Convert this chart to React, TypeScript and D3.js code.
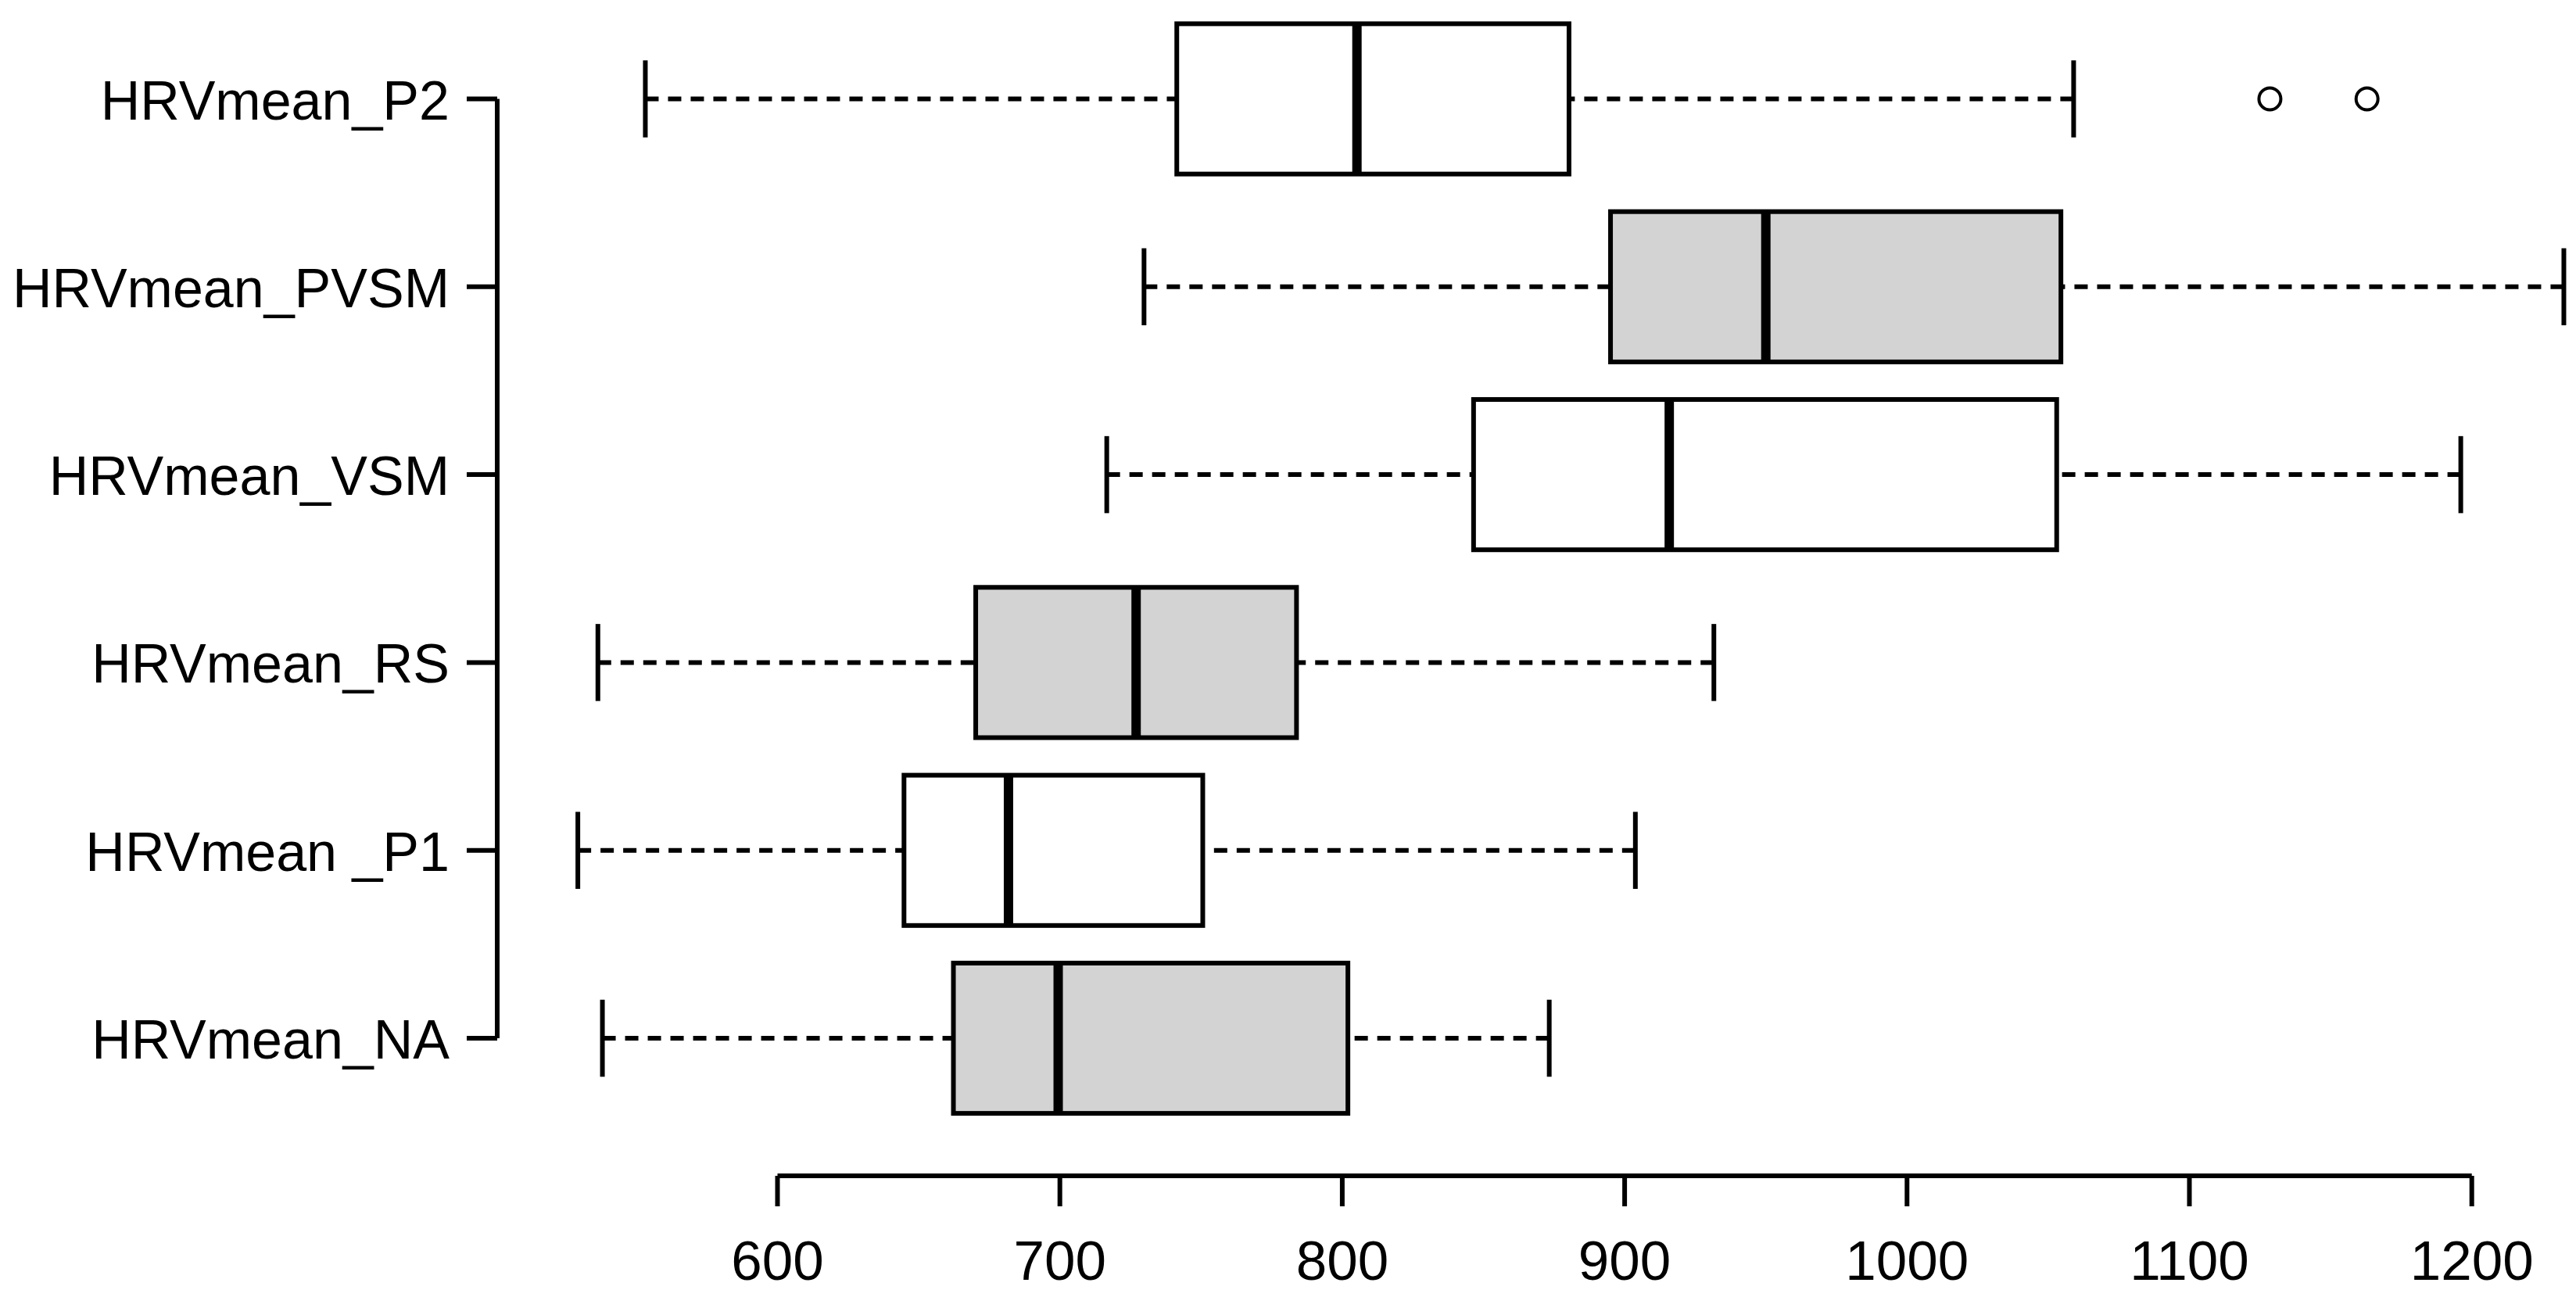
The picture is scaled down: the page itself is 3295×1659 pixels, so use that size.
import React from "react";
import * as d3 from "d3";

const categories = ["HRVmean_P2", "HRVmean_PVSM", "HRVmean_VSM", "HRVmean_RS", "HRVmean _P1", "HRVmean_NA"];
const whiskerLow = [553.2, 729.8, 716.6, 536.4, 529.3, 538.0];
const q1 = [741.4, 895.0, 846.5, 670.2, 644.8, 662.3];
const median = [805.2, 950.0, 915.8, 727.0, 681.8, 699.4];
const q3 = [880.3, 1054.5, 1053.0, 783.8, 750.6, 802.0];
const whiskerHigh = [1059.0, 1232.6, 1196.1, 931.6, 903.8, 873.3];
const shaded = [false, true, false, true, false, true];
const outlierGroup = ["HRVmean_P2", "HRVmean_P2"];
const outlierValue = [1128.5, 1162.9];
const xTicks = [600, 700, 800, 900, 1000, 1100, 1200];

const W = 3295;
const H = 1659;

export default function App() {
  const x = d3.scaleLinear().domain([600, 1200]).range([994.5, 3161.7]);
  const y = d3.scalePoint<string>().domain(categories).range([126.5, 1328]);
  const step = (1328 - 126.5) / (categories.length - 1);
  const halfBox = step * 0.4;
  const halfStaple = step * 0.205;
  const font = "'Liberation Sans', Arial, Helvetica, sans-serif";
  const lw = 6;
  const axisY = 1504;
  const axisX = 636;

  return (
    <svg width={W} height={H} style={{ position: "absolute", left: 0, top: 0, background: "#fff" }}>
      <rect x={0} y={0} width={W} height={H} fill="#fff" />
      {categories.map((c, i) => {
        const cy = y(c) as number;
        return (
          <g key={c}>
            <line x1={x(whiskerLow[i])} x2={x(q1[i])} y1={cy} y2={cy} stroke="#000" strokeWidth={lw} strokeDasharray="17,12" />
            <line x1={x(whiskerHigh[i])} x2={x(q3[i])} y1={cy} y2={cy} stroke="#000" strokeWidth={lw} strokeDasharray="17,12" />
            <line x1={x(whiskerLow[i])} x2={x(whiskerLow[i])} y1={cy - halfStaple} y2={cy + halfStaple} stroke="#000" strokeWidth={lw} />
            <line x1={x(whiskerHigh[i])} x2={x(whiskerHigh[i])} y1={cy - halfStaple} y2={cy + halfStaple} stroke="#000" strokeWidth={lw} />
            <rect
              x={x(q1[i])}
              y={cy - halfBox}
              width={x(q3[i]) - x(q1[i])}
              height={halfBox * 2}
              fill={shaded[i] ? "#d3d3d3" : "#ffffff"}
              stroke="#000"
              strokeWidth={lw}
            />
            <line x1={x(median[i])} x2={x(median[i])} y1={cy - halfBox} y2={cy + halfBox} stroke="#000" strokeWidth={12} />
          </g>
        );
      })}
      {outlierValue.map((v, i) => (
        <circle key={i} cx={x(v)} cy={y(outlierGroup[i]) as number} r={14} fill="none" stroke="#000" strokeWidth={4} />
      ))}
      {/* x axis */}
      <line x1={x(600)} x2={x(1200)} y1={axisY} y2={axisY} stroke="#000" strokeWidth={lw} />
      {xTicks.map((t) => (
        <g key={t}>
          <line x1={x(t)} x2={x(t)} y1={axisY} y2={axisY + 39} stroke="#000" strokeWidth={lw} />
          <text x={x(t)} y={1637} textAnchor="middle" fontFamily={font} fontSize={71} fill="#000">
            {t}
          </text>
        </g>
      ))}
      {/* y axis */}
      <line x1={axisX} x2={axisX} y1={y(categories[0]) as number} y2={y(categories[categories.length - 1]) as number} stroke="#000" strokeWidth={lw} />
      {categories.map((c) => (
        <g key={"l" + c}>
          <line x1={axisX - 39} x2={axisX} y1={y(c) as number} y2={y(c) as number} stroke="#000" strokeWidth={lw} />
          <text x={575} y={(y(c) as number) + 26} textAnchor="end" fontFamily={font} fontSize={70} fill="#000">
            {c}
          </text>
        </g>
      ))}
    </svg>
  );
}
